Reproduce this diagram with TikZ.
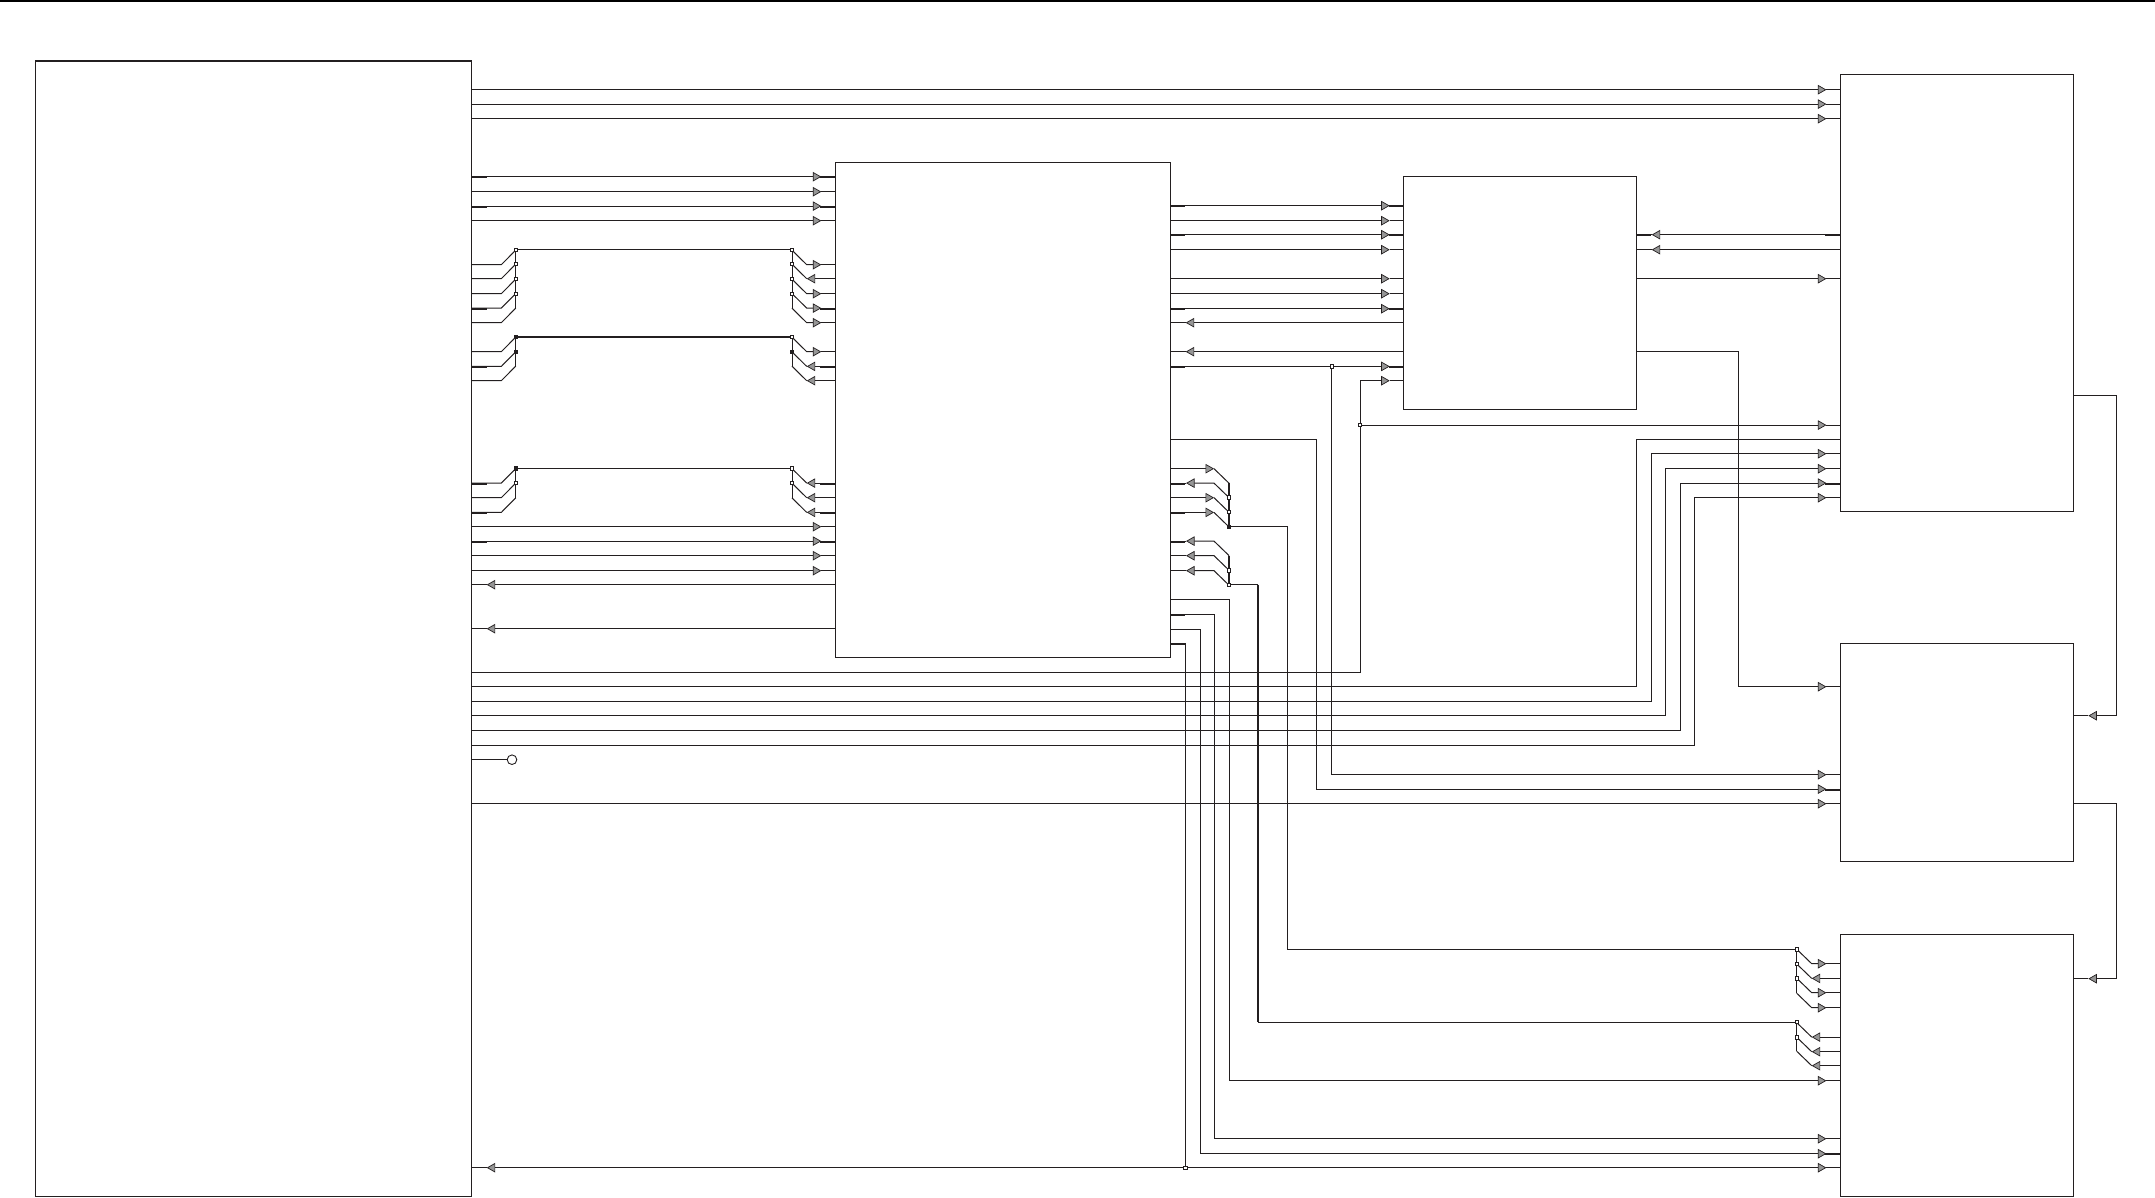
\documentclass[tikz,border=0pt]{standalone}
\usetikzlibrary{arrows.meta}
\definecolor{ink}{HTML}{231F20}
\definecolor{tipgray}{HTML}{969696}
\pgfdeclarelayer{front}
\pgfsetlayers{main,front}
\tikzset{
  blk/.style={draw=ink,line width=1.2pt,inner sep=0pt,outer sep=0pt,anchor=north west},
  wire/.style={draw=ink,line width=1pt,line join=miter},
  fat/.style={draw=ink,line width=2pt},
  arr/.style={-{Triangle[length=8.5pt,width=9.5pt,fill=tipgray,line width=.7pt]}},
  junc/.style={draw=ink,fill=white,line width=.7pt,inner sep=0pt,outer sep=0pt,minimum size=3.4pt,rectangle},
  juncd/.style={junc,fill=ink},
  bulb/.style={draw=ink,fill=white,line width=.9pt,circle,inner sep=0pt,outer sep=0pt,minimum size=9.6pt},
}
% right-pointing arrow ending 14 before box #2 at height #3; #1 is the path up to there
\newcommand{\toW}[3]{\draw[wire,arr] #1 -- ([xshift=-14pt]#2.west|-0,#3);\draw[wire] ([xshift=-14pt]#2.west|-0,#3) -- (#2.west|-0,#3);}
% left-pointing arrow: from #1 to tip (#2,#3) then on to #4
\newcommand{\goL}[4]{\draw[wire,arr] #1 -- (#2,#3);\draw[wire] (#2,#3) -- #4;}
% thick stubs
\newcommand{\stE}[2]{\draw[fat] ([yshift=-.4pt]#1.east|-0,#2) -- ++(15,0);}
\newcommand{\stW}[2]{\draw[fat] ([yshift=-.4pt]#1.west|-0,#2) -- ++(-15,0);}
% legs of buses on the west of a box: #1 bus x, #2 corner x, #3 box, #4 y
\newcommand{\legIn}[4]{\toW{(#1,{#4-14.5}) -- (#2,#4)}{#3}{#4}}
\newcommand{\legOut}[4]{\draw[wire,arr] (#3.west|-0,#4) -- (#2,#4);\draw[wire] (#2,#4) -- (#1,{#4-14.5});}
% legs on the east of A
\newcommand{\legA}[1]{\draw[wire] (A.east|-0,#1) -- (501.3,#1) -- (515.7,{#1-14.5});}
% legs on the east of B: y, bus below by 14.5
\newcommand{\legBr}[1]{\draw[wire,arr] (B.east|-0,#1) -- (1214,#1);\draw[wire] (1214,#1) -- (1229,{#1+14.5});}
\newcommand{\legBl}[1]{\draw[wire,arr] (1229,{#1+14.5}) -- (1214,#1) -- (1186,#1);\draw[wire] (1186,#1) -- (B.east|-0,#1);}
\begin{document}
\begin{tikzpicture}[x=1pt,y=-1pt]
\useasboundingbox (0,-0.4) rectangle (2155,1196.6);
\fill[black] (0,-0.4) rectangle (2155,1.6);
% blocks
\node[blk,minimum width=436pt,minimum height=1135.6pt] (A) at (35.5,60.5) {};
\node[blk,minimum width=335pt,minimum height=495pt] (B) at (835.3,162.3) {};
\node[blk,minimum width=232.7pt,minimum height=233.3pt] (C) at (1403.7,176) {};
\node[blk,minimum width=233pt,minimum height=437.1pt] (D) at (1840.4,74.2) {};
\node[blk,minimum width=233pt,minimum height=218pt] (E) at (1840.4,643.3) {};
\node[blk,minimum width=233pt,minimum height=262pt] (F) at (1840.4,934.3) {};
\node[bulb] (lamp) at (512,759.3) {};
% junctions
\begin{pgfonlayer}{front}
\node[junc] (la1) at (515.7,249.3) {};
\node[junc] (la2) at (515.7,263.7) {};
\node[junc] (la3) at (515.7,278.7) {};
\node[junc] (la4) at (515.7,293.3) {};
\node[juncd] (lb1) at (515.7,336.7) {};
\node[juncd] (lb2) at (515.7,351.7) {};
\node[juncd] (lc1) at (515.7,468) {};
\node[junc] (lc2) at (515.7,482.7) {};
\node[junc] (ra1) at (792,249.3) {};
\node[junc] (ra2) at (792,263.7) {};
\node[junc] (ra3) at (792,278.7) {};
\node[junc] (ra4) at (792,293.3) {};
\node[junc] (rb1) at (792,336.7) {};
\node[juncd] (rb2) at (792,351.7) {};
\node[junc] (rc1) at (792,468) {};
\node[junc] (rc2) at (792,482.7) {};
\node[junc] (ea1) at (1229,496.8) {};
\node[junc] (ea2) at (1229,511.7) {};
\node[juncd] (ea3) at (1229,526.3) {};
\node[junc] (eb1) at (1229,570) {};
\node[junc] (eb2) at (1229,584.3) {};
\node[junc] (fa1) at (1796.7,949) {};
\node[junc] (fa2) at (1796.7,963.7) {};
\node[junc] (fa3) at (1796.7,978) {};
\node[junc] (fb1) at (1796.7,1021.7) {};
\node[junc] (fb2) at (1796.7,1037) {};
\node[junc] (jc) at (1331.7,366) {};
\node[junc] (jd) at (1360,424.7) {};
\node[junc] (ja) at (1185.3,1167.3) {};
\end{pgfonlayer}
% A to D
\toW{(A.east|-0,89.3)}{D}{89.3}
\toW{(A.east|-0,103.7)}{D}{103.7}
\toW{(A.east|-0,118.3)}{D}{118.3}
% A to B straight
\toW{(A.east|-0,176.3)}{B}{176.3}
\toW{(A.east|-0,191.3)}{B}{191.3}
\toW{(A.east|-0,205.7)}{B}{205.7}
\toW{(A.east|-0,220.3)}{B}{220.3}
\toW{(A.east|-0,526.3)}{B}{526.3}
\toW{(A.east|-0,540.7)}{B}{540.7}
\toW{(A.east|-0,555.3)}{B}{555.3}
\toW{(A.east|-0,570.3)}{B}{570.3}
\goL{(B.west|-0,584.3)}{486.7}{584.3}{(A.east|-0,584.3)}
\goL{(B.west|-0,628.3)}{486.7}{628.3}{(A.east|-0,628.3)}
% bus 1
\draw[wire] (la1) -- (ra1);
\draw[wire] (515.7,249.3) -- (515.7,307.8);
\draw[wire] (792,249.3) -- (792,307.8);
\legA{264.3}\legA{278.3}\legA{293.3}\legA{307.7}\legA{322.3}
\legIn{792}{806.7}{B}{264.3}
\legOut{792}{806.7}{B}{278.3}
\legIn{792}{806.7}{B}{293.3}
\legIn{792}{806.7}{B}{307.7}
\legIn{792}{806.7}{B}{322.3}
% bus 2
\draw[fat] (lb1) -- (rb1);
\draw[wire] (515.7,336.7) -- (515.7,365.8);
\draw[wire] (792,336.7) -- (792,365.8);
\legA{351.3}\legA{366}\legA{380.3}
\legIn{792}{806.7}{B}{351.3}
\legOut{792}{806.7}{B}{366}
\legOut{792}{806.7}{B}{380.3}
% bus 3
\draw[wire] (lc1) -- (rc1);
\draw[wire] (515.7,468) -- (515.7,497.5);
\draw[wire] (792,468) -- (792,497.5);
\legA{482.7}\legA{497.3}\legA{512}
\legOut{792}{806.7}{B}{482.7}
\legOut{792}{806.7}{B}{497.3}
\legOut{792}{806.7}{B}{512}
% B to C
\toW{(B.east|-0,205.3)}{C}{205.3}
\toW{(B.east|-0,220.3)}{C}{220.3}
\toW{(B.east|-0,234.3)}{C}{234.3}
\toW{(B.east|-0,249.3)}{C}{249.3}
\toW{(B.east|-0,278.3)}{C}{278.3}
\toW{(B.east|-0,293.3)}{C}{293.3}
\toW{(B.east|-0,308.3)}{C}{308.3}
\goL{(C.west|-0,322.3)}{1185.7}{322.3}{(B.east|-0,322.3)}
\goL{(C.west|-0,351.3)}{1185.7}{351.3}{(B.east|-0,351.3)}
\toW{(B.east|-0,366)}{C}{366}
% C and D
\goL{(D.west|-0,234.3)}{1651.7}{234.3}{(C.east|-0,234.3)}
\goL{(D.west|-0,249.3)}{1651.7}{249.3}{(C.east|-0,249.3)}
\toW{(C.east|-0,278.3)}{D}{278.3}
\toW{(C.east|-0,351.3) -- (1738.4,351.3) -- (1738.4,686.3)}{E}{686.3}
% A to C, D
\draw[wire] (A.east|-0,672.3) -- (1360,672.3) -- (jd);
\draw[wire] (jd) -- (1360,380.3);
\toW{(1360,380.3)}{C}{380.3}
\toW{(jd)}{D}{424.7}
\draw[wire] (A.east|-0,686.3) -- (1636.5,686.3) -- (1636.5,439.3) -- (D.west|-0,439.3);
\toW{(A.east|-0,701.3) -- (1651.3,701.3) -- (1651.3,453.3)}{D}{453.3}
\toW{(A.east|-0,715.3) -- (1665.4,715.3) -- (1665.4,468.3)}{D}{468.3}
\toW{(A.east|-0,730.3) -- (1680.2,730.3) -- (1680.2,482.7)}{D}{482.7}
\toW{(A.east|-0,745.3) -- (1694.4,745.3) -- (1694.4,497.3)}{D}{497.3}
\draw[wire] (A.east|-0,759.3) -- (lamp);
\toW{(A.east|-0,803.3)}{E}{803.3}
% to E
\toW{(jc) -- (1331.7,774.3)}{E}{774.3}
\toW{(B.east|-0,439.3) -- (1316.7,439.3) -- (1316.7,788.7)}{E}{788.7}
% D, E loop
\draw[wire] (D.east|-0,395.3) -- (2116.5,395.3) -- (2116.5,715.3);
\goL{(2116.5,715.3)}{2088.3}{715.3}{(E.east|-0,715.3)}
\draw[wire] (E.east|-0,803.3) -- (2116.5,803.3) -- (2116.5,978.3);
\goL{(2116.5,978.3)}{2088.3}{978.3}{(F.east|-0,978.3)}
% bus groups on the east of B
\legBr{468.3}\legBl{482.7}\legBr{497.3}\legBr{512}
\draw[wire,line width=1.8pt] (1229,482.8) -- (1229,526.3);
\legBl{540.7}\legBl{555.3}\legBl{570.3}
\draw[wire,line width=1.8pt] (1229,555.2) -- (1229,584.3);
\draw[wire] (ea3) -- (1287.3,526.3) -- (1287.3,949) -- (fa1);
\draw[wire] (eb2) -- (1258,584.3);
\draw[fat] (1258,584.3) -- (1258,1021.7);
\draw[wire] (1258,1021.7) -- (fb1);
% bus groups at F
\draw[wire,line width=1.5pt] (1796.7,949) -- (1796.7,992.8);
\draw[wire,line width=1.5pt] (1796.7,1021.7) -- (1796.7,1050.8);
\legIn{1796.7}{1811.7}{F}{963.3}
\legOut{1796.7}{1811.7}{F}{978}
\legIn{1796.7}{1811.7}{F}{992.3}
\legIn{1796.7}{1811.7}{F}{1007.3}
\legOut{1796.7}{1811.7}{F}{1036.7}
\legOut{1796.7}{1811.7}{F}{1051.3}
\legOut{1796.7}{1811.7}{F}{1065.3}
% B down to F
\toW{(B.east|-0,599.3) -- (1229.3,599.3) -- (1229.3,1080.3)}{F}{1080.3}
\toW{(B.east|-0,614.3) -- (1214.3,614.3) -- (1214.3,1138.3)}{F}{1138.3}
\toW{(B.east|-0,628.7) -- (1200.3,628.7) -- (1200.3,1153.3)}{F}{1153.3}
\draw[wire] (B.east|-0,643) -- (1185.3,643) -- (ja);
\toW{(ja)}{F}{1167.3}
\goL{(ja)}{486.7}{1167.3}{(A.east|-0,1167.3)}
% heavy stubs
\stE{A}{176.3}\stE{A}{205.7}\stE{A}{307.7}\stE{A}{366}\stE{A}{482.7}\stE{A}{512}\stE{A}{540.7}
\stW{B}{176.3}\stW{B}{205.7}\stW{B}{307.7}\stW{B}{366}\stW{B}{482.7}\stW{B}{512}\stW{B}{540.7}
\stE{B}{205.3}\stE{B}{234.3}\stE{B}{308.3}\stE{B}{366}\stE{B}{482.7}\stE{B}{512}\stE{B}{540.7}\stE{B}{614.3}\stE{B}{643}
\stW{C}{205.3}\stW{C}{234.3}\stW{C}{308.3}\stW{C}{366}
\stE{C}{234.3}
\stW{D}{234.3}\stW{D}{482.7}
\stW{E}{788.7}
\stW{F}{1153.3}
\end{tikzpicture}
\end{document}
